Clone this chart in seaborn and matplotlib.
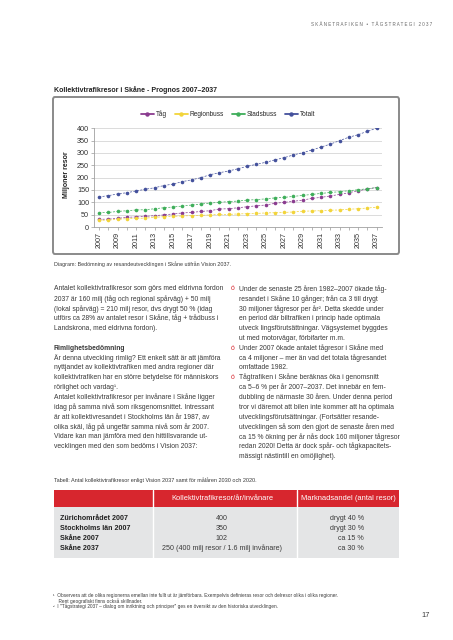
import numpy as np
import pandas as pd
import seaborn as sns
import matplotlib.pyplot as plt
from matplotlib.lines import Line2D
from matplotlib.patches import Rectangle, FancyBboxPatch

# page size in pixels
W, H = 453, 640

# Chart data (miljoner resor per år)
years = list(range(2007, 2038))
tag = [31, 32, 35, 39, 41, 43, 46, 49, 53, 57, 59, 63, 66, 73, 74, 78, 82, 86, 89, 96,
       100, 104, 109, 116, 120, 126, 132, 139, 147, 154, 160]
regionbuss = [27, 28, 31, 34, 35, 36, 39, 42, 43, 45, 46, 47, 49, 51, 51, 53, 54, 55, 57, 58,
              59, 61, 64, 65, 66, 68, 69, 72, 74, 77, 80]
stadsbuss = [58, 59, 63, 66, 69, 70, 74, 78, 81, 85, 89, 93, 97, 100, 103, 105, 109, 111, 114, 118,
             120, 124, 128, 132, 136, 140, 143, 147, 151, 155, 160]
totalt = [122, 127, 134, 139, 146, 153, 159, 168, 174, 184, 191, 200, 212, 220, 227, 236, 246, 254,
          262, 272, 281, 292, 301, 312, 324, 336, 350, 364, 374, 388, 400]
series_names = ['Tåg', 'Regionbuss', 'Stadsbuss', 'Totalt']
series_colors = ['#8a3b8f', '#f2d43a', '#3fae5a', '#44519c']

# Table data
table_header = ['Kollektivtrafikresor/år/invånare', 'Marknadsandel (antal resor)']
table_rows = ['Zürichområdet 2007', 'Stockholms län 2007', 'Skåne 2007', 'Skåne 2037']
table_per_inv = ['400', '350', '102', '250 (400 milj resor / 1.6 milj invånare)']
table_share = ['drygt 40 %', 'drygt 30 %', 'ca 15 %', 'ca 30 %']

left_col = [
    ('Antalet kollektivtrafikresor som görs med eldrivna fordon', 'normal'),
    ('2037 är 160 milj (tåg och regional spårväg) + 50 milj', 'normal'),
    ('(lokal spårväg) = 210 milj resor, dvs drygt 50 % (idag', 'normal'),
    ('utförs ca 28% av antalet resor i Skåne, tåg + trådbuss i', 'normal'),
    ('Landskrona, med eldrivna fordon).', 'normal'),
    ('', 'normal'),
    ('Rimlighetsbedömning', 'bold'),
    ('Är denna utveckling rimlig? Ett enkelt sätt är att jämföra', 'normal'),
    ('nyttjandet av kollektivtrafiken med andra regioner där', 'normal'),
    ('kollektivtrafiken har en större betydelse för människors', 'normal'),
    ('rörlighet och vardag¹.', 'normal'),
    ('Antalet kollektivtrafikresor per invånare i Skåne ligger', 'normal'),
    ('idag på samma nivå som riksgenomsnittet. Intressant', 'normal'),
    ('är att kollektivresandet i Stockholms län år 1987, av', 'normal'),
    ('olika skäl, låg på ungefär samma nivå som år 2007.', 'normal'),
    ('Vidare kan man jämföra med den hittillsvarande ut-', 'normal'),
    ('vecklingen med den som bedöms i Vision 2037:', 'normal'),
]
right_col = [
    (True, 'Under de senaste 25 åren 1982–2007 ökade tåg-'),
    (False, 'resandet i Skåne 10 gånger; från ca 3 till drygt'),
    (False, '30 miljoner tågresor per år². Detta skedde under'),
    (False, 'en period där biltrafiken i princip hade optimala'),
    (False, 'utveck lingsförutsättningar. Vägsystemet byggdes'),
    (False, 'ut med motorvägar, förbifarter m.m.'),
    (True, 'Under 2007 ökade antalet tågresor i Skåne med'),
    (False, 'ca 4 miljoner – mer än vad det totala tågresandet'),
    (False, 'omfattade 1982.'),
    (True, 'Tågtrafiken i Skåne beräknas öka i genomsnitt'),
    (False, 'ca 5–6 % per år 2007–2037. Det innebär en fem-'),
    (False, 'dubbling de närmaste 30 åren. Under denna period'),
    (False, 'tror vi däremot att bilen inte kommer att ha optimala'),
    (False, 'utvecklingsförutsättningar. (Fortsätter resande-'),
    (False, 'utvecklingen så som den gjort de senaste åren med'),
    (False, 'ca 15 % ökning per år nås dock 160 miljoner tågresor'),
    (False, 'redan 2020! Detta är dock spår- och tågkapacitets-'),
    (False, 'mässigt nästintill en omöjlighet).'),
]
footnotes = [
    '¹  Observera att de olika regionerna emellan inte fullt ut är jämförbara. Exempelvis definieras resor och delresor olika i olika regioner.',
    '    Rent geografiskt finns också skillnader.',
    '²  I "Tågstrategi 2037 – dialog om inriktning och principer" ges en översikt av den historiska utvecklingen.',
]

sns.set_style('white')
plt.rcParams['font.family'] = ['Liberation Sans Narrow', 'Liberation Sans', 'DejaVu Sans']
CHART_FONT = ['Liberation Sans', 'DejaVu Sans']
TEXT = '#3a3a3a'
RED = '#d7262e'
BODY = 4.85


def fx(x):
    return x / W


def fy(y):
    return 1 - y / H


fig = plt.figure(figsize=(W / 100, H / 100), dpi=100)

# header
fig.text(fx(432), fy(24), 'S K Å N E T R A F I K E N   •   T Å G S T R A T E G I   2 0 3 7',
         ha='right', va='center', fontsize=3.25, color='#666666', family=CHART_FONT)

# chart title
fig.text(fx(54), fy(90), 'Kollektivtrafikresor i Skåne - Prognos 2007–2037',
         ha='left', va='center', fontsize=5.0, fontweight='bold', color='#222222', family=CHART_FONT)

# chart frame
frame = FancyBboxPatch((fx(53), fy(254)), fx(346), (254 - 97) / H,
                       boxstyle='round,pad=0,rounding_size=0.004', transform=fig.transFigure,
                       facecolor='white', edgecolor='#8a8a8a', linewidth=1.4, zorder=-5)
fig.patches.append(frame)

# chart axes
ax = fig.add_axes([fx(94), fy(227), (381.7 - 94) / W, (227 - 128.3) / H])
ax.set_zorder(2)
df = pd.DataFrame({'År': years, 'Tåg': tag, 'Regionbuss': regionbuss,
                   'Stadsbuss': stadsbuss, 'Totalt': totalt})
df_long = pd.melt(df, id_vars='År', var_name='serie', value_name='resor')
sns.lineplot(data=df_long, x='År', y='resor', hue='serie', hue_order=series_names,
             palette=series_colors, marker='o', markersize=2.6, markeredgewidth=0,
             linewidth=0.5, linestyle=(0, (3, 2)), legend=False, ax=ax)

ax.set_xlim(2006.45, 2037.55)
ax.set_ylim(0, 400)
ax.set_yticks(range(0, 401, 50))
ax.set_xticks(range(2007, 2038, 2))
ax.set_xticks(range(2007, 2038), minor=True)
ax.set_xticklabels([str(y) for y in range(2007, 2038, 2)], rotation=90, family=CHART_FONT,
                   fontsize=5.2, color='#333333')
ax.set_yticklabels([str(v) for v in range(0, 401, 50)], family=CHART_FONT, fontsize=5.2,
                   color='#333333')
ax.tick_params(axis='x', which='both', length=2, width=0.5, color='#999999', pad=1.5, bottom=True)
ax.tick_params(axis='y', length=2, width=0.5, color='#999999', pad=1.5, left=True)
ax.grid(axis='y', color='#d6d6d6', linewidth=0.6)
ax.set_axisbelow(True)
for s in ['top', 'right']:
    ax.spines[s].set_visible(False)
for s in ['left', 'bottom']:
    ax.spines[s].set_color('#a0a0a0')
    ax.spines[s].set_linewidth(0.6)
ax.set_xlabel('')
ax.set_ylabel('')
ax.patch.set_alpha(0)

fig.text(fx(66.5), fy(175), 'Miljoner resor', rotation=90, ha='center', va='center',
         fontsize=5.0, fontweight='bold', color='#222222', family=CHART_FONT)

handles = [Line2D([0], [0], color=c, lw=1.3, marker='o', markersize=3.2, markeredgewidth=0)
           for c in series_colors]
fig.legend(handles, series_names, loc='center', bbox_to_anchor=(fx(228), fy(114)), ncol=4,
           frameon=False, handlelength=2.0, handletextpad=0.3, columnspacing=1.2,
           prop={'family': CHART_FONT, 'size': 4.7})

# caption under chart
fig.text(fx(54), fy(264.5), 'Diagram: Bedömning av resandeutvecklingen i Skåne utifrån Vision 2037.',
         ha='left', va='center', fontsize=3.9, color=TEXT)

# body text, left column
y0, step = 289, 9.85
for i, (line, weight) in enumerate(left_col):
    if line:
        fig.text(fx(54), fy(y0 + i * step), line, ha='left', va='center', fontsize=BODY,
                 fontweight=weight, color=TEXT)

# body text, right column
for i, (bullet, line) in enumerate(right_col):
    yy = fy(y0 + i * step)
    if bullet:
        fig.text(fx(233), yy, 'ó', ha='center', va='center', fontsize=BODY, color=RED)
    fig.text(fx(239), yy, line, ha='left', va='center', fontsize=BODY, color=TEXT)

# table
fig.text(fx(54), fy(480.5), 'Tabell: Antal kollektivtrafikresor enligt Vision 2037 samt för målåren 2030 och 2020.',
         ha='left', va='center', fontsize=4.0, color=TEXT)
fig.patches.append(Rectangle((fx(53.5), fy(506.7)), fx(345.5), (506.7 - 490) / H,
                             transform=fig.transFigure, facecolor=RED, edgecolor='none'))
fig.patches.append(Rectangle((fx(53.5), fy(557.7)), fx(345.5), (557.7 - 506.7) / H,
                             transform=fig.transFigure, facecolor='#e4e5e6', edgecolor='none'))
for xd in [152.7, 297.3]:
    fig.lines.append(Line2D([fx(xd), fx(xd)], [fy(490), fy(557.7)], transform=fig.transFigure,
                            color='white', linewidth=1.0))
fig.text(fx(222), fy(498.5), table_header[0], ha='center', va='center', fontsize=5.4,
         color='white')
fig.text(fx(348), fy(498.5), table_header[1], ha='center', va='center', fontsize=5.4,
         color='white')
for i in range(len(table_rows)):
    yy = fy(518.3 + i * 10)
    fig.text(fx(60), yy, table_rows[i], ha='left', va='center', fontsize=5.1, fontweight='bold',
             color='#222222')
    fig.text(fx(222), yy, table_per_inv[i], ha='center', va='center', fontsize=5.1, color=TEXT)
    fig.text(fx(364), yy, table_share[i], ha='right', va='center', fontsize=5.1, color=TEXT)

# footnotes
for i, line in enumerate(footnotes):
    fig.text(fx(53), fy(595 + i * 5.8), line, ha='left', va='center', fontsize=3.4, color=TEXT)

# page number
fig.text(fx(430), fy(615.7), '17', ha='right', va='center', fontsize=5.4, color=TEXT)

fig.savefig('out.png', dpi=100)
